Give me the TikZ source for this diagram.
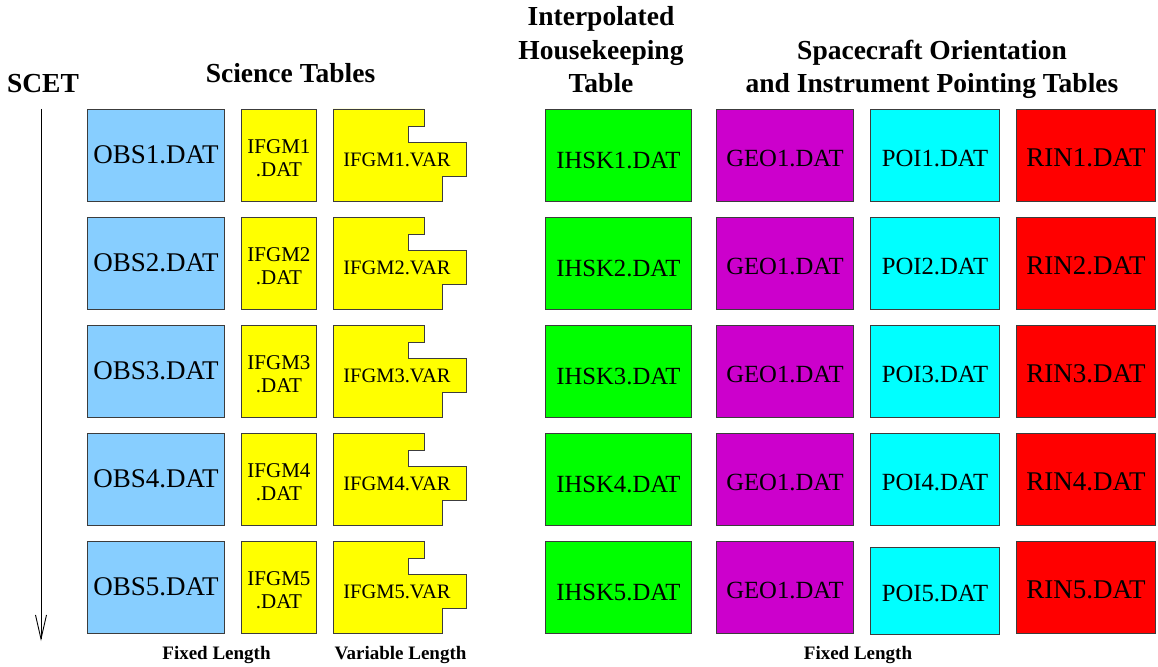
\documentclass[tikz,border=0pt]{standalone}
\usepackage{fontspec}
\setmainfont{Liberation Serif}
\usetikzlibrary{arrows.meta}
\definecolor{obsblue}{RGB}{135,206,255}
\definecolor{ifgmyellow}{RGB}{255,255,0}
\definecolor{ihskgreen}{RGB}{0,255,0}
\definecolor{geomag}{RGB}{204,0,204}
\definecolor{poicyan}{RGB}{0,255,255}
\definecolor{rinred}{RGB}{255,0,0}
\definecolor{edgegray}{RGB}{60,60,60}
\begin{document}
\begin{tikzpicture}[x=1pt,y=-1pt,
  filebox/.style={draw=edgegray, line width=0.9pt, inner sep=0pt, anchor=north west,
                  minimum height=92pt, text depth=0pt},
  hdr/.style={font=\bfseries\fontsize{27.5}{33.5}\selectfont, anchor=base, inner sep=0pt},
  foot/.style={font=\bfseries\fontsize{19}{22}\selectfont, anchor=base, inner sep=0pt},
  bigtxt/.style={font=\fontsize{27}{32}\selectfont},
  midtxt/.style={font=\fontsize{24.7}{29}\selectfont},
  smalltxt/.style={font=\fontsize{21}{23.3}\selectfont},
  varshape/.style={draw=edgegray, line width=0.9pt, fill=ifgmyellow, line join=miter},
  vartxt/.style={font=\fontsize{20.5}{24}\selectfont, anchor=base, inner sep=0pt},
  timearrow/.style={line width=0.9pt, -{Straight Barb[length=24pt,width=11pt]}}
]
\useasboundingbox (0,0) rectangle (1158,666);

% headings
\node[hdr] (scet) at (43,93) {SCET};
\node[hdr] (scihdr) at (290.5,83) {Science Tables};
\node[hdr] (ihskhdr) at (601,93) {\begin{tabular}[b]{@{}c@{}}Interpolated\\Housekeeping\\Table\end{tabular}};
\node[hdr] (orhdr) at (932,93) {\begin{tabular}[b]{@{}c@{}}Spacecraft Orientation\\and Instrument Pointing Tables\end{tabular}};

% time arrow
\coordinate (atop) at (41,109);
\coordinate (abot) at (41,641);
\draw[timearrow] (atop) -- (abot);

\foreach \i in {1,...,5} {
  \pgfmathsetmacro{\T}{109+108*(\i-1)}
  \node[filebox, fill=obsblue, minimum width=137pt, text height=16pt, bigtxt] (obs\i) at (87,\T) {OBS\i.DAT};
  \node[filebox, fill=ifgmyellow, minimum width=75pt, text height=42pt, smalltxt] (ifgm\i) at (241,\T)
     {\begin{tabular}[b]{@{}c@{}}IFGM\i\\.DAT\end{tabular}};
  \draw[varshape] (333,\T) -- (424,\T) -- (424,\T+17) -- (408,\T+17) -- (408,\T+33) -- (466,\T+33)
       -- (466,\T+67) -- (442,\T+67) -- (442,\T+92) -- (333,\T+92) -- cycle;
  \node[vartxt] (var\i) at (397,\T+57.7) {IFGM\i.VAR};
  \node[filebox, fill=ihskgreen, minimum width=146pt, text height=26pt, midtxt] (ihsk\i) at (545,\T) {IHSK\i.DAT};
  \node[filebox, fill=geomag, minimum width=137pt, text height=22pt, midtxt] (geo\i) at (716,\T) {GEO1.DAT};
  \node[filebox, fill=rinred, minimum width=139pt, text height=22pt, bigtxt] (rin\i) at (1016,\T) {RIN\i.DAT};
}
\foreach \i in {1,...,4} {
  \pgfmathsetmacro{\T}{109+108*(\i-1)}
  \node[filebox, fill=poicyan, minimum width=129pt, text height=22pt, midtxt] (poi\i) at (870,\T) {POI\i.DAT};
}
\node[filebox, fill=poicyan, minimum width=129pt, minimum height=87pt, text height=21pt, midtxt] (poi5) at (870,547) {POI5.DAT};

% footers
\node[foot] (fixl) at (216.5,659) {Fixed Length};
\node[foot] (varl) at (400.5,659) {Variable Length};
\node[foot] (fixr) at (858,659) {Fixed Length};
\end{tikzpicture}
\end{document}
